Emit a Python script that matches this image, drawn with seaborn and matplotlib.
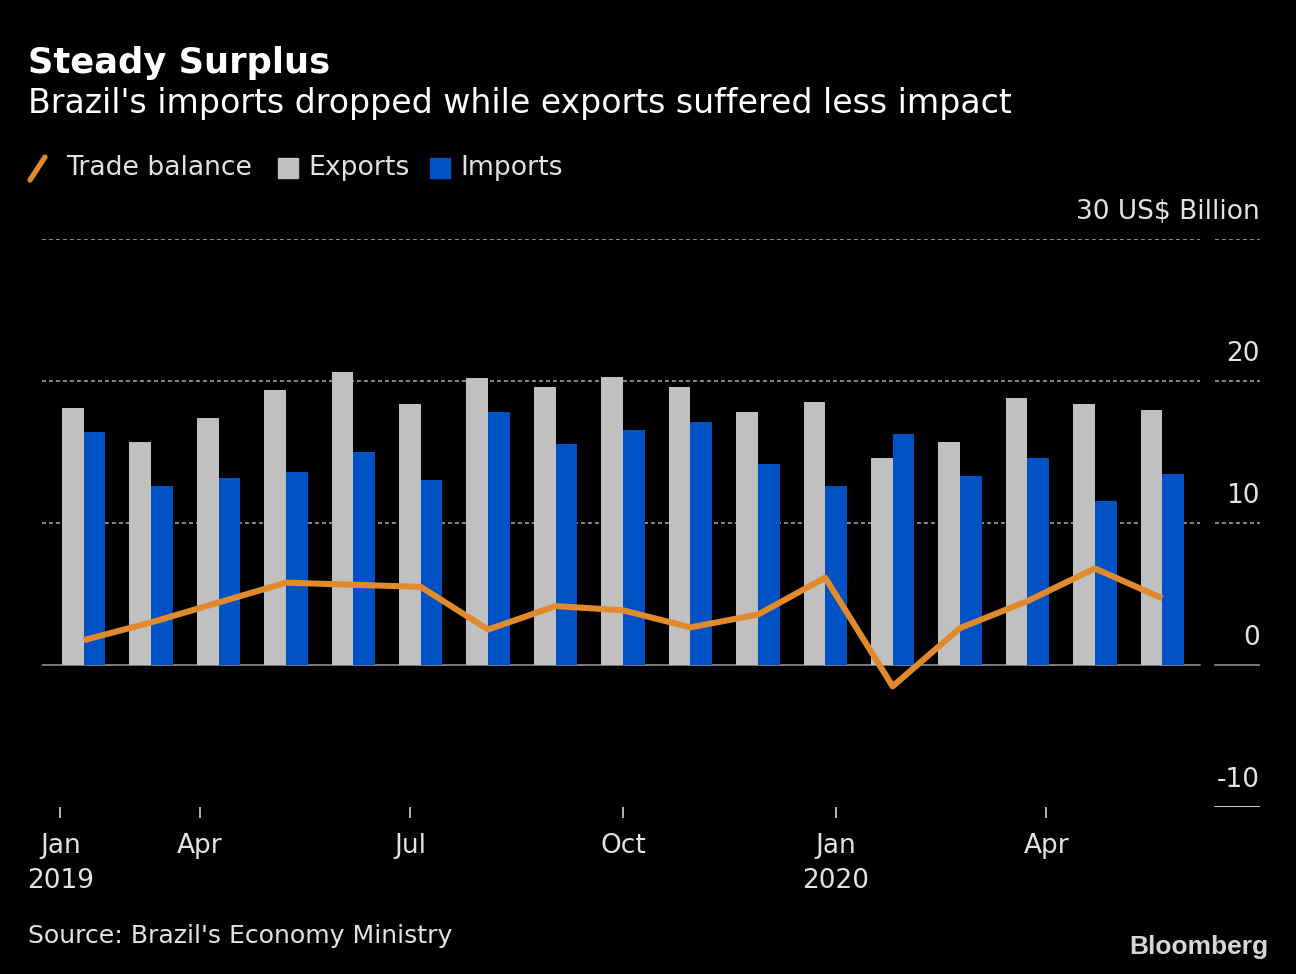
import numpy as np
import pandas as pd
import matplotlib
matplotlib.use("Agg")
import matplotlib.pyplot as plt
import matplotlib.transforms as mtransforms
from matplotlib.lines import Line2D
from matplotlib.patches import Rectangle
import seaborn as sns

# ---------------- data ----------------
months = ["Jan 2019", "Feb 2019", "Mar 2019", "Apr 2019", "May 2019", "Jun 2019",
          "Jul 2019", "Aug 2019", "Sep 2019", "Oct 2019", "Nov 2019", "Dec 2019",
          "Jan 2020", "Feb 2020", "Mar 2020", "Apr 2020", "May 2020"]
exports = [18.1, 15.7, 17.4, 19.35, 20.6, 18.35, 20.2, 19.6, 20.3, 19.6, 17.8, 18.5,
           14.6, 15.7, 18.8, 18.35, 17.95]
imports = [16.4, 12.6, 13.2, 13.6, 15.0, 13.05, 17.8, 15.55, 16.55, 17.1, 14.15, 12.6,
           16.25, 13.3, 14.6, 11.55, 13.45]
trade_balance = [1.75, 3.0, 4.4, 5.8, 5.65, 5.5, 2.5, 4.15, 3.85, 2.65, 3.55, 6.15,
                 -1.5, 2.6, 4.5, 6.8, 4.7]
tick_pos = [-0.347, 1.72, 4.84, 8.0, 11.155, 14.28]
tick_labels = ["Jan\n2019", "Apr", "Jul", "Oct", "Jan\n2020", "Apr"]
y_levels = [30, 20, 10, 0, -10]
y_labels = ["30 US$ Billion", "20", "10", "0", "-10"]

# ---------------- style ----------------
GREY = "#c0c0c0"
BLUE = "#0052c4"
ORANGE = "#e08a2c"
TXT = "#e2e2e2"
sns.set_style("dark", {"axes.facecolor": "black", "figure.facecolor": "black"})
plt.rcParams["font.family"] = ["DejaVu Sans"]

W, H = 1296, 974
fig = plt.figure(figsize=(W / 100, H / 100), dpi=100)
fig.patch.set_facecolor("black")

ax_left, ax_right, ax_top, ax_bot = 42, 1260, 239, 807
ax = fig.add_axes([ax_left / W, 1 - ax_bot / H, (ax_right - ax_left) / W, (ax_bot - ax_top) / H])
ax.set_facecolor("black")

df = pd.DataFrame({
    "month": months * 2,
    "series": ["Exports"] * len(months) + ["Imports"] * len(months),
    "value": exports + imports,
})
sns.barplot(data=df, x="month", y="value", hue="series", order=months,
            hue_order=["Exports", "Imports"], palette=[GREY, BLUE],
            width=0.644, linewidth=0, saturation=1, legend=False, ax=ax, errorbar=None)
sns.lineplot(x=np.arange(len(months)), y=trade_balance, color=ORANGE, lw=4.4,
             ax=ax, legend=False, solid_joinstyle="round", solid_capstyle="butt")

ax.set_xlim(-0.619, 17.45)
ax.set_ylim(-10, 30)
for s in ax.spines.values():
    s.set_visible(False)
ax.grid(False)
ax.set_xlabel("")
ax.set_ylabel("")
ax.set_yticks([])
ax.set_xticks(tick_pos)
ax.set_xticklabels(tick_labels, fontsize=19, color=TXT, linespacing=1.45)
ax.tick_params(axis="x", bottom=True, direction="out", length=7.7, width=1.2,
               color="#cfcfcf", pad=11)

# grid lines (main segment + short segment under labels)
split1 = (1200 - ax_left) / (ax_right - ax_left)
split2 = (1215 - ax_left) / (ax_right - ax_left)
for lev in [30, 20, 10]:
    ax.axhline(lev, xmin=0, xmax=split1, color="#8a8a8a", lw=1.4, ls=(0, (2, 1.6)), zorder=0.5)
    ax.axhline(lev, xmin=split2, xmax=1, color="#8a8a8a", lw=1.4, ls=(0, (2, 1.6)), zorder=0.5)
ax.axhline(0, xmin=0, xmax=split1, color="#7a7a7a", lw=1.4, zorder=0.6)
ax.axhline(0, xmin=split2, xmax=1, color="#7a7a7a", lw=1.4, zorder=0.6)
ax.axhline(-10, xmin=split2, xmax=1, color="#d0d0d0", lw=1.4, zorder=0.6)

trans = mtransforms.blended_transform_factory(ax.transAxes, ax.transData)
trans_off = mtransforms.offset_copy(trans, fig=fig, x=0, y=14, units="dots")
for lev, lab in zip(y_levels, y_labels):
    ax.text(1.0, lev, lab, transform=trans_off, ha="right", va="bottom",
            fontsize=19, color=TXT)

# ---------------- titles ----------------
def px(x, y):
    return x / W, 1 - y / H

fig.text(*px(28, 63), "Steady Surplus", fontsize=25.4, fontweight="bold", color="white",
         va="center", ha="left")
fig.text(*px(28, 104), "Brazil's imports dropped while exports suffered less impact",
         fontsize=23.9, color="white", va="center", ha="left")

# legend
fig.add_artist(Line2D([30 / W, 45 / W], [1 - 180 / H, 1 - 157 / H], color=ORANGE, lw=3.8,
                      transform=fig.transFigure))
fig.text(*px(66, 168), "Trade balance", fontsize=19.2, color=TXT, va="center", ha="left")
fig.add_artist(Rectangle(px(278, 178), 20 / W, 20 / H, color=GREY, transform=fig.transFigure))
fig.text(*px(308, 168), "Exports", fontsize=19.2, color=TXT, va="center", ha="left")
fig.add_artist(Rectangle(px(430, 178), 20 / W, 20 / H, color=BLUE, transform=fig.transFigure))
fig.text(*px(460, 168), "Imports", fontsize=19.2, color=TXT, va="center", ha="left")

# footer
fig.text(*px(28, 936), "Source: Brazil's Economy Ministry", fontsize=18.1, color=TXT,
         va="center", ha="left")
fig.text(*px(1268, 947), "Bloomberg", fontsize=19, fontweight="bold", color="#d6d6d6",
         va="center", ha="right", family=["Liberation Sans", "DejaVu Sans"])

fig.savefig("out.png", dpi=100, facecolor="black")
